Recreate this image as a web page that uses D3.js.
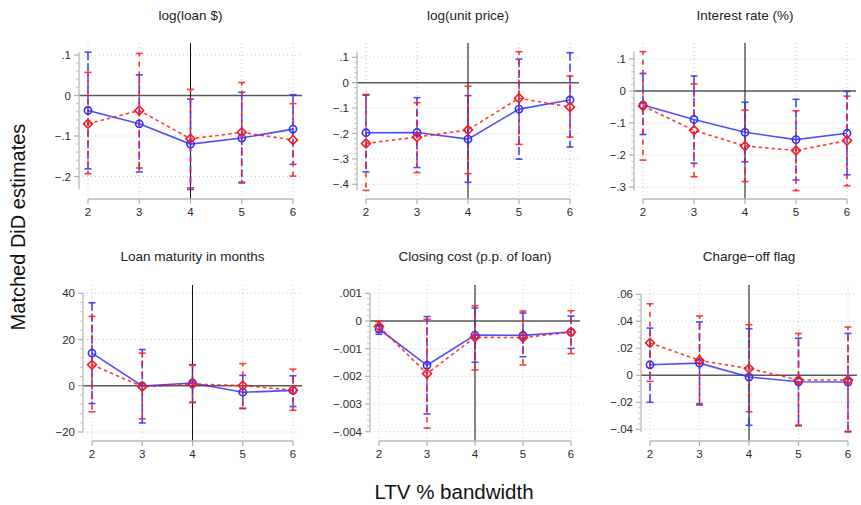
<!DOCTYPE html>
<html>
<head>
<meta charset="utf-8">
<script src="https://cdn.jsdelivr.net/npm/d3@7"></script>
<style>
  body { margin: 0; background: #fff; }
  svg { display: block; font-family: "Liberation Sans", Arial, Helvetica, sans-serif; }
</style>
</head>
<body>
<div id="chart"></div>
<script>
// bandwidths on the x axis
const xValues = [2, 3, 4, 5, 6];

const panelTitles = ["log(loan $)", "log(unit price)", "Interest rate (%)",
  "Loan maturity in months", "Closing cost (p.p. of loan)", "Charge\u2212off flag"];

// log(loan $)
const loanTicks = [0.1, 0, -0.1, -0.2];
const loanBlue = [-0.037, -0.070, -0.120, -0.105, -0.083];
const loanBlueLo = [-0.181, -0.189, -0.232, -0.216, -0.170];
const loanBlueHi = [0.107, 0.051, -0.009, 0.008, 0.002];
const loanRed = [-0.070, -0.037, -0.107, -0.091, -0.110];
const loanRedLo = [-0.193, -0.179, -0.228, -0.214, -0.199];
const loanRedHi = [0.057, 0.104, 0.015, 0.032, -0.020];

// log(unit price)
const priceTicks = [0.1, 0, -0.1, -0.2, -0.3, -0.4];
const priceBlue = [-0.197, -0.196, -0.222, -0.104, -0.068];
const priceBlueLo = [-0.351, -0.334, -0.392, -0.301, -0.253];
const priceBlueHi = [-0.049, -0.059, -0.051, 0.093, 0.118];
const priceRed = [-0.239, -0.214, -0.186, -0.061, -0.096];
const priceRedLo = [-0.424, -0.354, -0.358, -0.243, -0.214];
const priceRedHi = [-0.046, -0.079, -0.014, 0.122, 0.026];

// interest rate
const rateTicks = [0.1, 0, -0.1, -0.2, -0.3];
const rateBlue = [-0.044, -0.089, -0.129, -0.152, -0.132];
const rateBlueLo = [-0.136, -0.226, -0.221, -0.278, -0.262];
const rateBlueHi = [0.055, 0.047, -0.035, -0.026, -0.001];
const rateRed = [-0.047, -0.123, -0.172, -0.186, -0.155];
const rateRedLo = [-0.216, -0.268, -0.283, -0.311, -0.296];
const rateRedHi = [0.123, 0.022, -0.060, -0.062, -0.016];

// loan maturity
const termTicks = [40, 20, 0, -20];
const termBlue = [14.1, -0.1, 1.2, -2.8, -2.0];
const termBlueLo = [-7.7, -16.1, -7.2, -9.7, -9.0];
const termBlueHi = [35.9, 15.7, 9.1, 4.5, 4.3];
const termRed = [9.1, -0.4, 0.7, 0.1, -1.9];
const termRedLo = [-11.3, -14.3, -7.2, -9.9, -10.6];
const termRedHi = [30.0, 14.1, 9.0, 9.6, 7.2];

// closing cost
const costTicks = [0.001, 0, -0.001, -0.002, -0.003, -0.004];
const costBlue = [-0.00029, -0.0016, -0.00051, -0.00052, -0.0004];
const costBlueLo = [-0.00048, -0.00336, -0.00149, -0.00129, -0.00099];
const costBlueHi = [-0.00014, 0.00016, 0.00047, 0.00029, 0.00018];
const costRed = [-0.0002, -0.0019, -0.00059, -0.0006, -0.0004];
const costRedLo = [-0.00041, -0.00387, -0.00177, -0.00159, -0.00118];
const costRedHi = [-0.00002, 0.00006, 0.00055, 0.00036, 0.00037];

// charge-off flag
const chargeTicks = [0.06, 0.04, 0.02, 0, -0.02, -0.04];
const chargeBlue = [0.0078, 0.009, -0.0013, -0.0048, -0.005];
const chargeBlueLo = [-0.020, -0.022, -0.037, -0.037, -0.0415];
const chargeBlueHi = [0.035, 0.0395, 0.0345, 0.0275, 0.031];
const chargeRed = [0.024, 0.011, 0.005, -0.0035, -0.0035];
const chargeRedLo = [-0.0045, -0.021, -0.027, -0.0375, -0.042];
const chargeRedHi = [0.053, 0.044, 0.0375, 0.031, 0.0357];

const width = 861, height = 505;
const blue = "#2f2fff", red = "#ff1a1a";

// panel frames: x of bandwidth 2 and 6, pixel of top/bottom major tick, plot top, x axis
const panels = [
  { title: panelTitles[0], ticks: loanTicks, b: loanBlue, bLo: loanBlueLo, bHi: loanBlueHi, r: loanRed, rLo: loanRedLo, rHi: loanRedHi,
    x2: 88, x6: 293, tTop: 55, tBot: 176.5, top: 43, axisY: 199, titleY: 20 },
  { title: panelTitles[1], ticks: priceTicks, b: priceBlue, bLo: priceBlueLo, bHi: priceBlueHi, r: priceRed, rLo: priceRedLo, rHi: priceRedHi,
    x2: 366, x6: 570, tTop: 57.3, tBot: 184.3, top: 43, axisY: 199, titleY: 20 },
  { title: panelTitles[2], ticks: rateTicks, b: rateBlue, bLo: rateBlueLo, bHi: rateBlueHi, r: rateRed, rLo: rateRedLo, rHi: rateRedHi,
    x2: 643, x6: 847, tTop: 59, tBot: 187, top: 43, axisY: 199, titleY: 20 },
  { title: panelTitles[3], ticks: termTicks, b: termBlue, bLo: termBlueLo, bHi: termBlueHi, r: termRed, rLo: termRedLo, rHi: termRedHi,
    x2: 92, x6: 293, tTop: 293.3, tBot: 432, top: 285, axisY: 441, titleY: 261 },
  { title: panelTitles[4], ticks: costTicks, b: costBlue, bLo: costBlueLo, bHi: costBlueHi, r: costRed, rLo: costRedLo, rHi: costRedHi,
    x2: 379, x6: 571, tTop: 293.3, tBot: 431.7, top: 285, axisY: 441, titleY: 261 },
  { title: panelTitles[5], ticks: chargeTicks, b: chargeBlue, bLo: chargeBlueLo, bHi: chargeBlueHi, r: chargeRed, rLo: chargeRedLo, rHi: chargeRedHi,
    x2: 650, x6: 848, tTop: 294.3, tBot: 429.3, top: 285, axisY: 441, titleY: 261 }
];

const svg = d3.select("#chart").append("svg")
  .attr("width", width)
  .attr("height", height);

svg.append("rect").attr("width", width).attr("height", height).attr("fill", "#fff");

// stata style labels: .1, −.1, 0
function fmt(v) {
  if (v === 0) return "0";
  let s = String(+v.toPrecision(6));
  s = s.replace("0.", ".").replace("-", "\u2212");
  return s;
}

panels.forEach(function (p) {
  const g = svg.append("g");
  const x = d3.scaleLinear().domain([2, 6]).range([p.x2, p.x6]);
  const tMax = d3.max(p.ticks), tMin = d3.min(p.ticks);
  const y = d3.scaleLinear().domain([tMin, tMax]).range([p.tBot, p.tTop]);
  const left = x(2) - 9, right = x(6) + 9;
  const plotBottom = p.axisY - 3;

  // extent of the y axis line: ticks plus intervals
  const allVals = p.ticks.concat(p.bLo, p.bHi, p.rLo, p.rHi);
  const yHi = d3.max(allVals), yLo = d3.min(allVals);

  // grid
  g.selectAll(".hgrid").data(p.ticks).join("line")
    .attr("x1", left).attr("x2", right)
    .attr("y1", d => y(d)).attr("y2", d => y(d))
    .attr("stroke", "#c8c8c8").attr("stroke-width", 1).attr("stroke-dasharray", "1,3");
  g.selectAll(".vgrid").data(xValues).join("line")
    .attr("x1", d => x(d)).attr("x2", d => x(d))
    .attr("y1", p.top).attr("y2", plotBottom)
    .attr("stroke", "#c8c8c8").attr("stroke-width", 1).attr("stroke-dasharray", "1,3");

  // zero line and cutoff line
  g.append("line")
    .attr("x1", left).attr("x2", right).attr("y1", y(0)).attr("y2", y(0))
    .attr("stroke", "#5a5a5a").attr("stroke-width", 1.5);
  g.append("line")
    .attr("x1", x(4)).attr("x2", x(4)).attr("y1", p.top).attr("y2", p.axisY)
    .attr("stroke", "#111").attr("stroke-width", 1);

  // y axis
  const ya = g.append("g").attr("class", "yaxis");
  ya.append("line")
    .attr("x1", left).attr("x2", left).attr("y1", y(yHi)).attr("y2", y(yLo))
    .attr("stroke", "#b8b8b8").attr("stroke-width", 1.3);
  const step = p.ticks[0] - p.ticks[1];
  const minor = [];
  for (let i = 0; i < p.ticks.length - 1; i++) {
    for (let k = 1; k < 5; k++) minor.push(p.ticks[i] - (step * k) / 5);
  }
  ya.selectAll(".minor").data(minor).join("line")
    .attr("x1", left - 3).attr("x2", left)
    .attr("y1", d => y(d)).attr("y2", d => y(d))
    .attr("stroke", "#c4c4c4").attr("stroke-width", 1);
  ya.selectAll(".major").data(p.ticks).join("line")
    .attr("x1", left - 5).attr("x2", left)
    .attr("y1", d => y(d)).attr("y2", d => y(d))
    .attr("stroke", "#b0b0b0").attr("stroke-width", 1.2);
  ya.selectAll("text").data(p.ticks).join("text")
    .attr("x", left - 8).attr("y", d => y(d))
    .attr("dy", "0.35em").attr("text-anchor", "end")
    .attr("font-size", 11.5).attr("fill", "#2a2a2a")
    .text(fmt);

  // x axis
  const xa = g.append("g").attr("class", "xaxis");
  xa.append("line")
    .attr("x1", x(2)).attr("x2", x(6)).attr("y1", p.axisY).attr("y2", p.axisY)
    .attr("stroke", "#b8b8b8").attr("stroke-width", 1.3);
  xa.selectAll(".tick").data(xValues).join("line")
    .attr("x1", d => x(d)).attr("x2", d => x(d))
    .attr("y1", p.axisY).attr("y2", p.axisY + 5)
    .attr("stroke", "#b0b0b0").attr("stroke-width", 1.2);
  xa.selectAll("text").data(xValues).join("text")
    .attr("x", d => x(d)).attr("y", p.axisY + 13)
    .attr("dy", "0.35em").attr("text-anchor", "middle")
    .attr("font-size", 11.5).attr("fill", "#2a2a2a")
    .text(d => d);

  // title
  g.append("text")
    .attr("x", (left + right) / 2).attr("y", p.titleY)
    .attr("text-anchor", "middle").attr("font-size", 13.5).attr("fill", "#222")
    .text(p.title);

  const series = [
    { pts: p.b, lo: p.bLo, hi: p.bHi, color: blue, ci: "8,3", ciOff: 0, line: null, marker: "circle" },
    { pts: p.r, lo: p.rLo, hi: p.rHi, color: red, ci: "5,5", ciOff: 2, line: "3.5,3", marker: "diamond" }
  ];

  // confidence intervals
  series.forEach(function (s) {
    const rows = xValues.map((v, i) => ({ x: v, lo: s.lo[i], hi: s.hi[i] }));
    g.append("g").selectAll("line").data(rows).join("line")
      .attr("x1", d => x(d.x)).attr("x2", d => x(d.x))
      .attr("y1", d => y(d.hi)).attr("y2", d => y(d.lo))
      .attr("stroke", s.color).attr("stroke-width", 1.6)
      .attr("stroke-dasharray", s.ci).attr("stroke-dashoffset", s.ciOff)
      .attr("opacity", 0.9);
    const caps = rows.flatMap(d => [{ x: d.x, v: d.lo }, { x: d.x, v: d.hi }]);
    g.append("g").selectAll("line").data(caps).join("line")
      .attr("x1", d => x(d.x) - 3.5).attr("x2", d => x(d.x) + 3.5)
      .attr("y1", d => y(d.v)).attr("y2", d => y(d.v))
      .attr("stroke", s.color).attr("stroke-width", 1.6).attr("opacity", 0.85);
  });

  // point estimates
  series.forEach(function (s) {
    const rows = xValues.map((v, i) => ({ x: v, v: s.pts[i] }));
    const line = d3.line().x(d => x(d.x)).y(d => y(d.v));
    g.append("path").datum(rows)
      .attr("fill", "none").attr("stroke", s.color).attr("stroke-width", 1.6)
      .attr("stroke-dasharray", s.line).attr("opacity", 0.85)
      .attr("d", line);
    if (s.marker === "circle") {
      g.append("g").selectAll("circle").data(rows).join("circle")
        .attr("cx", d => x(d.x)).attr("cy", d => y(d.v)).attr("r", 3.6)
        .attr("fill", "none").attr("stroke", s.color).attr("stroke-width", 1.6);
    } else {
      const sym = d3.symbol().type(d3.symbolSquare).size(40);
      g.append("g").selectAll("path").data(rows).join("path")
        .attr("transform", d => `translate(${x(d.x)},${y(d.v)}) rotate(45)`)
        .attr("d", sym)
        .attr("fill", "none").attr("stroke", s.color).attr("stroke-width", 1.6);
    }
  });
});

// shared axis titles
svg.append("text")
  .attr("transform", "translate(25,227) rotate(-90)")
  .attr("text-anchor", "middle").attr("font-size", 20).attr("fill", "#111")
  .text("Matched DiD estimates");
svg.append("text")
  .attr("x", 454).attr("y", 499)
  .attr("text-anchor", "middle").attr("font-size", 20.5).attr("fill", "#111")
  .text("LTV % bandwidth");
</script>
</body>
</html>
